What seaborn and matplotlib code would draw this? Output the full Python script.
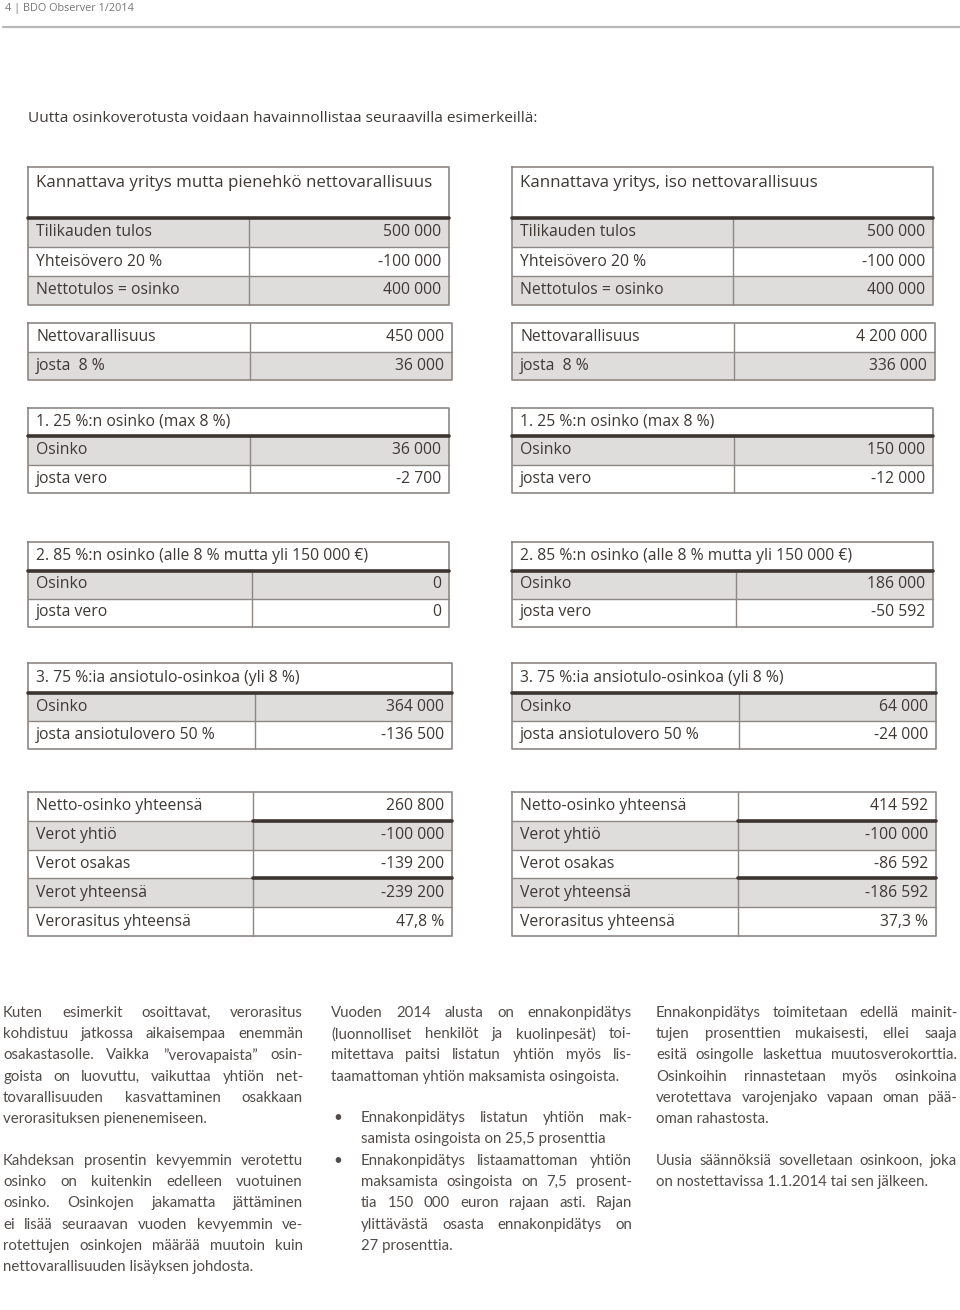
import matplotlib
matplotlib.use("Agg")
import matplotlib.pyplot as plt
from matplotlib import font_manager
import seaborn as sns

# ---- data ----
page_header = "4 | BDO Observer 1/2014"
intro = "Uutta osinkoverotusta voidaan havainnollistaa seuraavilla esimerkeillä:"

left_title = "Kannattava yritys mutta pienehkö nettovarallisuus"
right_title = "Kannattava yritys, iso nettovarallisuus"

result_labels = ["Tilikauden tulos", "Yhteisövero 20 %", "Nettotulos = osinko"]
left_result = ["500 000", "-100 000", "400 000"]
right_result = ["500 000", "-100 000", "400 000"]

wealth_labels = ["Nettovarallisuus", "josta  8 %"]
left_wealth = ["450 000", "36 000"]
right_wealth = ["4 200 000", "336 000"]

part1_title = "1. 25 %:n osinko (max 8 %)"
part2_title = "2. 85 %:n osinko (alle 8 % mutta yli 150 000 €)"
part3_title = "3. 75 %:ia ansiotulo-osinkoa (yli 8 %)"
part_labels = ["Osinko", "josta vero"]
part3_labels = ["Osinko", "josta ansiotulovero 50 %"]
left_part1 = ["36 000", "-2 700"]
right_part1 = ["150 000", "-12 000"]
left_part2 = ["0", "0"]
right_part2 = ["186 000", "-50 592"]
left_part3 = ["364 000", "-136 500"]
right_part3 = ["64 000", "-24 000"]

total_labels = ["Netto-osinko yhteensä", "Verot yhtiö", "Verot osakas",
                "Verot yhteensä", "Verorasitus yhteensä"]
left_total = ["260 800", "-100 000", "-139 200", "-239 200", "47,8 %"]
right_total = ["414 592", "-100 000", "-86 592", "-186 592", "37,3 %"]

col1_par1 = ["Kuten esimerkit osoittavat, verorasitus",
             "kohdistuu jatkossa aikaisempaa enemmän",
             "osakastasolle. Vaikka ”verovapaista” osin-",
             "goista on luovuttu, vaikuttaa yhtiön net-",
             "tovarallisuuden kasvattaminen osakkaan",
             "verorasituksen pienenemiseen."]
col1_par2 = ["Kahdeksan prosentin kevyemmin verotettu",
             "osinko on kuitenkin edelleen vuotuinen",
             "osinko. Osinkojen jakamatta jättäminen",
             "ei lisää seuraavan vuoden kevyemmin ve-",
             "rotettujen osinkojen määrää muutoin kuin",
             "nettovarallisuuden lisäyksen johdosta."]
col2_par1 = ["Vuoden 2014 alusta on ennakonpidätys",
             "(luonnolliset henkilöt ja kuolinpesät) toi-",
             "mitettava paitsi listatun yhtiön myös lis-",
             "taamattoman yhtiön maksamista osingoista."]
col2_bullet1 = ["Ennakonpidätys listatun yhtiön mak-",
                "samista osingoista on 25,5 prosenttia"]
col2_bullet2 = ["Ennakonpidätys listaamattoman yhtiön",
                "maksamista osingoista on 7,5 prosent-",
                "tia 150 000 euron rajaan asti. Rajan",
                "ylittävästä osasta ennakonpidätys on",
                "27 prosenttia."]
col3_par1 = ["Ennakonpidätys toimitetaan edellä mainit-",
             "tujen prosenttien mukaisesti, ellei saaja",
             "esitä osingolle laskettua muutosverokorttia.",
             "Osinkoihin rinnastetaan myös osinkoina",
             "verotettava varojenjako vapaan oman pää-",
             "oman rahastosta."]
col3_par2 = ["Uusia säännöksiä sovelletaan osinkoon, joka",
             "on nostettavissa 1.1.2014 tai sen jälkeen."]

# ---- style ----
sns.set_theme(style="white")
plt.rcParams["font.family"] = ["Open Sans", "DejaVu Sans"]

INK = "#3f3936"
GRID = "#8e8884"
DARK = "#3b3431"
SHADE = "#dedddc"
BODY = "#524c49"
ROW_SIZE = 11.3

fig = plt.figure(figsize=(9.6, 13.1), dpi=100)
ax = fig.add_axes([0, 0, 1, 1])
ax.set_xlim(0, 960)
ax.set_ylim(1310, 0)
ax.axis("off")
renderer = fig.canvas.get_renderer()

# header
ax.text(5, 8, page_header, fontsize=7.8, color="#777777", va="center")
ax.plot([3, 960], [27, 27], color="#b8b8b8", lw=1.6)
ax.text(28, 118, intro, fontsize=11.1, color=INK, va="center")


def table(x0, x1, xs, y0, labels, values, shades, title=None, title_h=0,
          row_h=28.5, title_size=ROW_SIZE, title_pad=0, thick=()):
    y = y0
    if title:
        ax.text(x0 + 8, y0 + title_pad if title_pad else y0 + title_h / 2,
                title, fontsize=title_size, color=INK, va="center")
        y = y0 + title_h
    centers = [y + row_h * (i + 0.5) for i in range(len(labels))]
    colors = [SHADE if s else "white" for s in shades]
    ax.barh(centers, [x1 - x0] * len(labels), left=x0, height=row_h,
            color=colors, edgecolor="none")
    for c, lab, val in zip(centers, labels, values):
        ax.text(x0 + 8, c, lab, fontsize=ROW_SIZE, color=INK, va="center")
        ax.text(x1 - 8, c, val, fontsize=ROW_SIZE, color=INK, va="center", ha="right")
    y_end = y + row_h * len(labels)
    # grid
    for i in range(1, len(labels)):
        yy = y + row_h * i
        ax.plot([x0, x1], [yy, yy], color=GRID, lw=1)
    ax.plot([xs, xs], [y, y_end], color=GRID, lw=1)
    ax.plot([x0, x1, x1, x0, x0], [y0, y0, y_end, y_end, y0], color=GRID, lw=1.2)
    if title:
        ax.plot([x0, x1], [y, y], color=DARK, lw=2.6)
    for i in thick:
        yy = y + row_h * i
        ax.plot([xs, x1], [yy, yy], color=DARK, lw=2.6)


for side in ("left", "right"):
    L = side == "left"
    x0 = 28 if L else 512
    table(x0, 449 if L else 933, 249 if L else 733, 167, result_labels,
          left_result if L else right_result, [1, 0, 1],
          title=left_title if L else right_title, title_h=51, row_h=29,
          title_size=12.2, title_pad=16)
    table(x0, 452 if L else 935, 250 if L else 734, 323, wealth_labels,
          left_wealth if L else right_wealth, [0, 1], row_h=28.5)
    table(x0, 449 if L else 933, 250 if L else 734, 408, part_labels,
          left_part1 if L else right_part1, [1, 0], title=part1_title,
          title_h=28, row_h=28.5)
    table(x0, 449 if L else 933, 252 if L else 736, 542, part_labels,
          left_part2 if L else right_part2, [1, 0], title=part2_title,
          title_h=28.5, row_h=28)
    table(x0, 452 if L else 936, 255 if L else 739, 663, part3_labels,
          left_part3 if L else right_part3, [1, 0], title=part3_title,
          title_h=30, row_h=28)
    table(x0, 452 if L else 936, 253 if L else 738, 792, total_labels,
          left_total if L else right_total, [0, 1, 0, 1, 0], row_h=28.8,
          thick=(1, 3))

# ---- body text, justified ----
installed = {f.name for f in font_manager.fontManager.ttflist}
if "DejaVu Sans Condensed" in installed:
    BODY_FONT = ["DejaVu Sans Condensed", "DejaVu Sans"]
    body_size = 10.6
else:
    BODY_FONT = ["Lato", "DejaVu Sans"]
    body_size = 10.8


def width(s, size):
    t = ax.text(0, 0, s, fontsize=size, family=BODY_FONT)
    w = t.get_window_extent(renderer).width
    t.remove()
    return w


blocks = [(col1_par1, 3, 303, 1013), (col1_par2, 3, 303, 1161),
          (col2_par1, 331, 632, 1013), (col2_bullet1, 361, 632, 1118),
          (col2_bullet2, 361, 632, 1161),
          (col3_par1, 656, 957, 1013), (col3_par2, 656, 957, 1161)]
widest = max(width(l, body_size) / (x1 - x0)
             for lines, x0, x1, _ in blocks for l in lines)
if widest > 0.985:
    body_size = body_size * 0.985 / widest


def paragraph(lines, x0, x1, y, pitch=21.2):
    for i, line in enumerate(lines):
        yy = y + i * pitch
        words = line.split(" ")
        if i == len(lines) - 1 or len(words) < 2:
            ax.text(x0, yy, line, fontsize=body_size, family=BODY_FONT,
                    color=BODY, va="center")
            continue
        ws = [width(w, body_size) for w in words]
        gap = (x1 - x0 - sum(ws)) / (len(words) - 1)
        x = x0
        for w, wd in zip(words, ws):
            ax.text(x, yy, w, fontsize=body_size, family=BODY_FONT,
                    color=BODY, va="center")
            x += wd + gap


for lines, x0, x1, y in blocks:
    paragraph(lines, x0, x1, y)
for yb in (1118, 1161):
    ax.text(333, yb, "•", fontsize=body_size, family=BODY_FONT, color=BODY,
            va="center")

fig.savefig("out.png", dpi=100, facecolor="white")
